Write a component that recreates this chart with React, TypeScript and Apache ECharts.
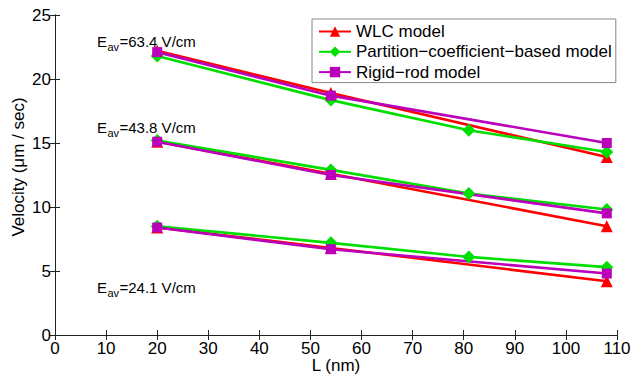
import React, { useEffect, useRef } from "react";
import * as echarts from "echarts";

const lengths = [20, 54, 81, 108];
const fieldLabels = ["63.4", "43.8", "24.1"];

// WLC model (no value read at 81 nm: null)
const wlcHigh = [22.2, 18.9, null, 13.9];
const wlcMid = [15.1, 12.6, null, 8.5];
const wlcLow = [8.4, 6.8, null, 4.2];

// Partition-coefficient-based model
const pcHigh = [21.8, 18.35, 16.0, 14.3];
const pcMid = [15.2, 12.9, 11.05, 9.8];
const pcLow = [8.5, 7.2, 6.1, 5.3];

// Rigid-rod model
const rrHigh = [22.1, 18.7, null, 15.0];
const rrMid = [15.1, 12.5, null, 9.5];
const rrLow = [8.4, 6.7, null, 4.8];

const xTicks = [0, 10, 20, 30, 40, 50, 60, 70, 80, 90, 100, 110];
const yTicks = [0, 5, 10, 15, 20, 25];

const models = [
  { name: "WLC model", color: "#ff0000", symbol: "triangle", size: 12, groups: [wlcHigh, wlcMid, wlcLow] },
  { name: "Partition\u2212coefficient\u2212based model", color: "#00dd00", symbol: "diamond", size: 13, groups: [pcHigh, pcMid, pcLow] },
  { name: "Rigid\u2212rod model", color: "#bb00bb", symbol: "rect", size: 10, groups: [rrHigh, rrMid, rrLow] },
];

export default function App() {
  const ref = useRef<HTMLDivElement>(null);
  useEffect(() => {
    if (!ref.current) return;
    const chart = echarts.init(ref.current, undefined, { renderer: "svg" });
    const font = "'Liberation Sans', Arial, sans-serif";
    const series: any[] = [];
    models.forEach((m) => {
      m.groups.forEach((vals) => {
        const data = lengths
          .map((x, i) => (vals[i] == null ? null : [x, vals[i]]))
          .filter((d) => d !== null);
        series.push({
          type: "line",
          name: m.name,
          data,
          symbol: m.symbol,
          symbolSize: m.size,
          showAllSymbol: true,
          lineStyle: { color: m.color, width: 2.6 },
          itemStyle: { color: m.color },
          xAxisIndex: 0,
          yAxisIndex: 0,
        });
      });
    });
    const annY = [42, 128, 288];
    const graphics: any[] = [];
    fieldLabels.forEach((f, i) => {
      graphics.push(
        { type: "text", left: 97, top: annY[i] - 8.5, style: { text: "E", font: `15px ${font}`, fill: "#000" } },
        { type: "text", left: 107.5, top: annY[i] - 1, style: { text: "av", font: `11px ${font}`, fill: "#000" } },
        { type: "text", left: 119.5, top: annY[i] - 8.5, style: { text: `=${f} V/cm`, font: `15px ${font}`, fill: "#000" } }
      );
    });
    const axisCommon = {
      axisLine: { show: true, lineStyle: { color: "#222", width: 1 } },
      axisTick: { show: true, inside: true, length: 5, lineStyle: { color: "#222" } },
      splitLine: { show: false },
    };
    chart.setOption({
      animation: false,
      backgroundColor: "#fff",
      grid: { left: 55, right: 15, top: 15, bottom: 40, containLabel: false, outerBoundsMode: "none" },
      legend: {
        orient: "vertical",
        left: 312,
        top: 19,
        data: models.map((m) => m.name),
        itemWidth: 32,
        itemHeight: 13,
        itemGap: 3.3,
        padding: [4, 4, 2, 6],
        backgroundColor: "#fff",
        borderColor: "#888",
        borderWidth: 1,
        borderRadius: 0,
        textStyle: { fontFamily: font, fontSize: 17, color: "#000", lineHeight: 17 },
      },
      xAxis: [
        {
          type: "value",
          min: 0,
          max: 110,
          interval: 10,
          name: "L (nm)",
          nameLocation: "middle",
          nameGap: 22,
          nameMoveOverlap: false,
          nameTextStyle: { fontFamily: font, fontSize: 17, color: "#000" },
          axisLabel: { fontFamily: font, fontSize: 17, color: "#000", margin: 5 },
          ...axisCommon,
        },
        {
          type: "value",
          position: "top",
          min: 0,
          max: 110,
          interval: 10,
          axisLabel: { show: false },
          ...axisCommon,
        },
      ],
      yAxis: [
        {
          type: "value",
          min: 0,
          max: 25,
          interval: 5,
          name: "Velocity (\u03bcm / sec)",
          nameLocation: "middle",
          nameGap: 28,
          nameMoveOverlap: false,
          nameTextStyle: { fontFamily: font, fontSize: 17, color: "#000", padding: [0, 0, 0, 16] },
          axisLabel: { fontFamily: font, fontSize: 17, color: "#000", margin: 4 },
          ...axisCommon,
        },
        {
          type: "value",
          position: "right",
          min: 0,
          max: 25,
          interval: 5,
          axisLabel: { show: false },
          ...axisCommon,
        },
      ],
      series,
      graphic: graphics,
    });
    return () => chart.dispose();
  }, []);
  return <div ref={ref} style={{ width: 632, height: 375, position: "absolute", left: 0, top: 0 }} />;
}
